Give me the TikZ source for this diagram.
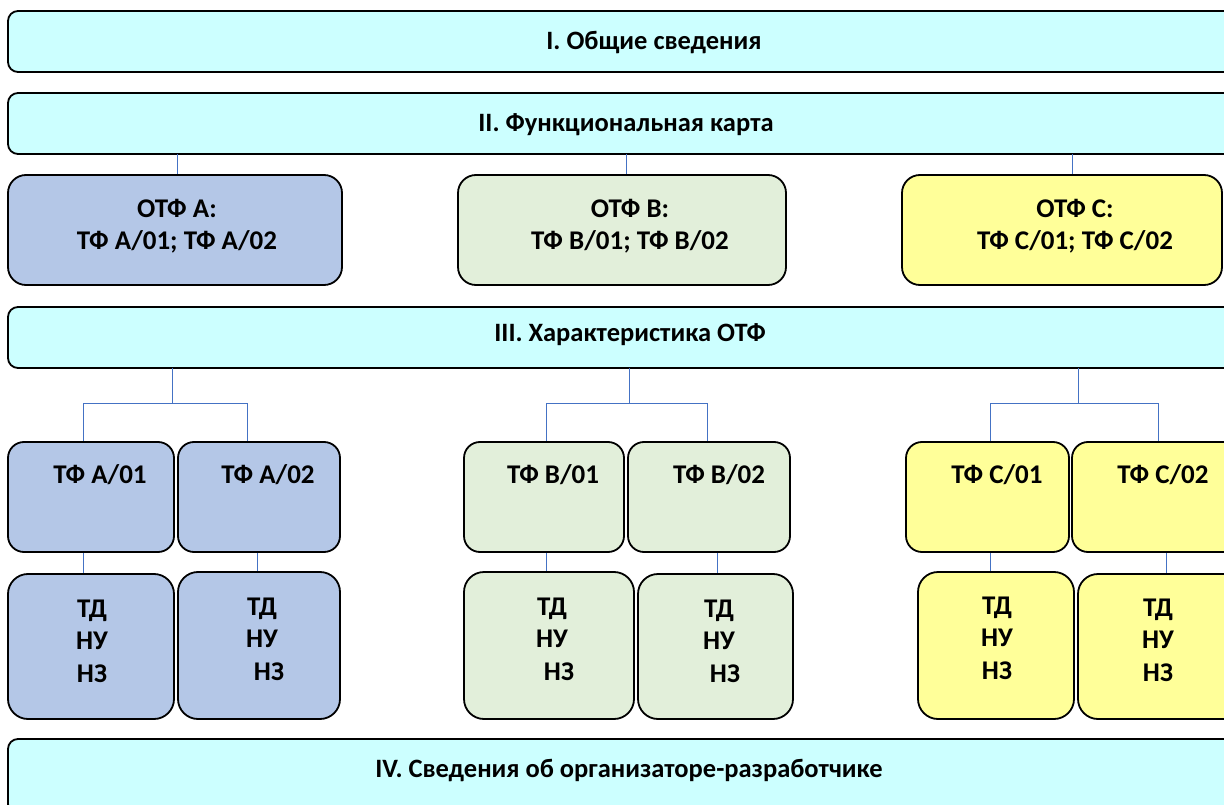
\documentclass[tikz,border=0pt]{standalone}
\usepackage{fontspec}
\setmainfont{Carlito}
\definecolor{cyanfill}{HTML}{CCFFFF}
\definecolor{bluefill}{HTML}{B4C7E7}
\definecolor{greenfill}{HTML}{E2EFDA}
\definecolor{yellowfill}{HTML}{FFFF99}
\definecolor{conn}{HTML}{4472C4}
\begin{document}
\begin{tikzpicture}[x=1pt,y=-1pt,
  box/.style={draw=black, line width=1.8pt, inner sep=0pt},
  widebox/.style={box, fill=cyanfill, rounded corners=10pt, minimum width=1304pt, minimum height=61pt},
  otfbox/.style={box, rounded corners=18pt, minimum height=110pt},
  tfbox/.style={box, rounded corners=16pt, minimum height=110pt},
  tdbox/.style={box, rounded corners=20pt, minimum height=145pt},
  wtext/.style={font=\fontsize{26.5}{30}\selectfont\bfseries, inner sep=0pt},
  btext/.style={font=\fontsize{27}{32.5}\selectfont\bfseries, inner sep=0pt, align=center},
  link/.style={draw=conn, line width=1pt}]
\useasboundingbox (0,0) rectangle (1224,805);
\clip (0,0) rectangle (1224,805);
\fill[white] (0,0) rectangle (1224,805);
% wide boxes
\node[widebox] (b1) at (660,41.5) {};
\node[wtext] (t1) at (654,43) {I. Общие сведения};
\node[widebox] (b2) at (660,123.5) {};
\node[wtext] (t2) at (626,125) {II. Функциональная карта};
\node[widebox] (b3) at (660,337.5) {};
\node[wtext] (t3) at (630,335) {III. Характеристика ОТФ};
\node[widebox, minimum height=75pt] (b4) at (660,776.5) {};
\node[wtext] (t4) at (629,771) {IV. Сведения об организаторе-разработчике};
% OTF boxes
\node[otfbox, fill=bluefill, minimum width=334pt] (oa) at (175,230) {};
\node[btext] (toa) at (177,226) {ОТФ А:\\ТФ А/01; ТФ А/02};
\node[otfbox, fill=greenfill, minimum width=328pt] (ob) at (622,230) {};
\node[btext] (tob) at (630,226) {ОТФ В:\\ТФ В/01; ТФ В/02};
\node[otfbox, fill=yellowfill, minimum width=320pt] (oc) at (1062,230) {};
\node[btext] (toc) at (1075,226) {ОТФ С:\\ТФ С/01; ТФ С/02};
% links II -> OTF
\coordinate (p2a) at (177,154); \coordinate (p2b) at (626,154); \coordinate (p2c) at (1072,154);
\draw[link] (p2a) -- (p2a |- oa.north);
\draw[link] (p2b) -- (p2b |- ob.north);
\draw[link] (p2c) -- (p2c |- oc.north);
% TF boxes
\node[tfbox, fill=bluefill, minimum width=166pt] (fa1) at (91,497) {};
\node[tfbox, fill=bluefill, minimum width=162pt] (fa2) at (259,497) {};
\node[tfbox, fill=greenfill, minimum width=160pt] (fb1) at (544,497) {};
\node[tfbox, fill=greenfill, minimum width=162pt] (fb2) at (709,497) {};
\node[tfbox, fill=yellowfill, minimum width=163pt] (fc1) at (987.5,497) {};
\node[tfbox, fill=yellowfill, minimum width=170pt] (fc2) at (1157,497) {};
\node[btext] (tfa1) at (100,475) {ТФ А/01};
\node[btext] (tfa2) at (268,475) {ТФ А/02};
\node[btext] (tfb1) at (553,475) {ТФ В/01};
\node[btext] (tfb2) at (719,475) {ТФ В/02};
\node[btext] (tfc1) at (997,475) {ТФ С/01};
\node[btext] (tfc2) at (1163,475) {ТФ С/02};
% tree links III -> TF
\foreach \m/\l/\r/\s in {172/83/247/a, 629/546/707/b, 1078/990/1158/c}{
  \coordinate (m\s) at (\m,368);
  \coordinate (j\s) at (\m,403);
  \coordinate (l\s) at (\l,403);
  \coordinate (r\s) at (\r,403);
  \draw[link] (m\s) -- (j\s);
  \draw[link] (l\s) -- (r\s);
  \draw[link] (l\s) -- (\l,441);
  \draw[link] (r\s) -- (\r,441);
}
% TD boxes
\node[tdbox, fill=bluefill, minimum width=166pt] (da1) at (91,646.5) {};
\node[tdbox, fill=bluefill, minimum width=162pt, minimum height=147pt] (da2) at (259,645.5) {};
\node[tdbox, fill=greenfill, minimum width=170pt, minimum height=147pt] (db1) at (549,645.5) {};
\node[tdbox, fill=greenfill, minimum width=155pt] (db2) at (715.5,646.5) {};
\node[tdbox, fill=yellowfill, minimum width=156pt, minimum height=147pt] (dc1) at (996,645.5) {};
\node[tdbox, fill=yellowfill, minimum width=170pt] (dc2) at (1163,646.5) {};
\node[btext] (tda1) at (92,641) {ТД\\НУ\\НЗ};
\node[btext] (tda2) at (262,639) {ТД\\НУ\\\hspace*{14pt}НЗ};
\node[btext] (tdb1) at (552,639) {ТД\\НУ\\\hspace*{14pt}НЗ};
\node[btext] (tdb2) at (719,641) {ТД\\НУ\\\hspace*{12pt}НЗ};
\node[btext] (tdc1) at (997,638) {ТД\\НУ\\НЗ};
\node[btext] (tdc2) at (1158,640) {ТД\\НУ\\НЗ};
% links TF -> TD
\draw[link] (fa1.south -| 83,0) -- (da1.north -| 83,0);
\draw[link] (fa2.south -| 257,0) -- (da2.north -| 257,0);
\draw[link] (fb1.south -| 546,0) -- (db1.north -| 546,0);
\draw[link] (fb2.south -| 717,0) -- (db2.north -| 717,0);
\draw[link] (fc1.south -| 990,0) -- (dc1.north -| 990,0);
\draw[link] (fc2.south -| 1166,0) -- (dc2.north -| 1166,0);
\end{tikzpicture}
\end{document}
